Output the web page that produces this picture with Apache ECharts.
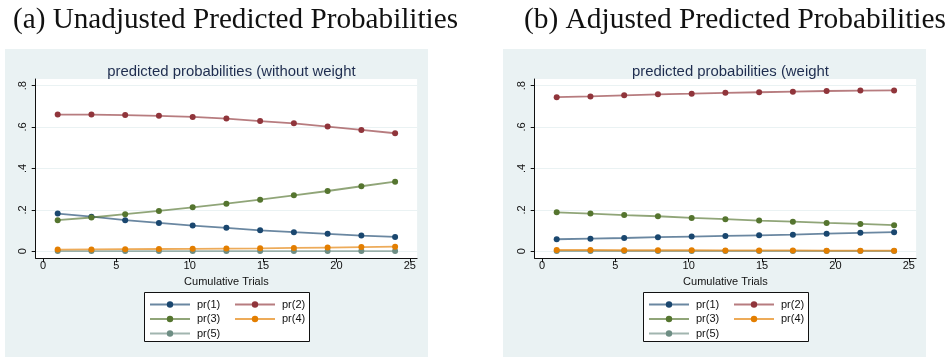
<!DOCTYPE html>
<html>
<head>
<meta charset="utf-8">
<script src="https://cdn.jsdelivr.net/npm/echarts@6/dist/echarts.min.js"></script>
<style>
html,body{margin:0;padding:0;background:#fff;}
#chart{width:947px;height:358px;}
</style>
</head>
<body>
<div id="chart"></div>
<script>
// ---- data ----
const panelHeaders = ['(a) Unadjusted Predicted Probabilities', '(b) Adjusted Predicted Probabilities'];
const panelTitles = ['predicted probabilities (without weight', 'predicted probabilities (weight'];
const seriesNames = ['pr(1)', 'pr(2)', 'pr(3)', 'pr(4)', 'pr(5)'];
const xValues = [1, 3.3, 5.6, 7.9, 10.2, 12.5, 14.8, 17.1, 19.4, 21.7, 24];
const xTicks = [0, 5, 10, 15, 20, 25];
const yTicks = [0, 0.2, 0.4, 0.6, 0.8];
const xAxisName = 'Cumulative Trials';

const unadjPr1 = [0.182, 0.167, 0.150, 0.137, 0.124, 0.113, 0.101, 0.092, 0.084, 0.076, 0.069];
const unadjPr2 = [0.660, 0.660, 0.658, 0.654, 0.649, 0.641, 0.629, 0.618, 0.602, 0.586, 0.570];
const unadjPr3 = [0.150, 0.163, 0.179, 0.195, 0.212, 0.230, 0.249, 0.270, 0.291, 0.314, 0.336];
const unadjPr4 = [0.008, 0.009, 0.010, 0.011, 0.012, 0.013, 0.014, 0.016, 0.018, 0.020, 0.022];
const unadjPr5 = [0.001, 0.001, 0.001, 0.001, 0.001, 0.001, 0.001, 0.001, 0.001, 0.001, 0.001];

const adjPr1 = [0.058, 0.061, 0.064, 0.068, 0.071, 0.074, 0.077, 0.080, 0.085, 0.089, 0.092];
const adjPr2 = [0.744, 0.748, 0.753, 0.758, 0.761, 0.765, 0.768, 0.771, 0.774, 0.776, 0.777];
const adjPr3 = [0.188, 0.182, 0.175, 0.169, 0.161, 0.155, 0.148, 0.143, 0.137, 0.132, 0.126];
const adjPr4 = [0.006, 0.006, 0.005, 0.005, 0.005, 0.004, 0.004, 0.004, 0.003, 0.003, 0.003];
const adjPr5 = [0.001, 0.001, 0.001, 0.001, 0.001, 0.001, 0.001, 0.001, 0.001, 0.001, 0.001];

// ---- styling ----
const colors = ['#1a476f', '#90353b', '#55752f', '#e37e00', '#6e8e84'];
const bgColor = '#eaf2f3';
const sansFont = 'Liberation Sans, Arial, sans-serif';
const serifFont = 'Liberation Serif, Times New Roman, serif';

const panels = [
  {values: [unadjPr1, unadjPr2, unadjPr3, unadjPr4, unadjPr5], bgLeft: 5, gridLeft: 35.7, legendLeft: 149, boxLeft: 144},
  {values: [adjPr1, adjPr2, adjPr3, adjPr4, adjPr5], bgLeft: 503, gridLeft: 534.7, legendLeft: 648, boxLeft: 643}
];
const headerLefts = [8, 519];
const headerSizes = [29.2, 29.4];

const gridWidth = 381.4;
const gridTop = 79;
const gridHeight = 179.3;

const yLabelFmt = v => {
  if (Math.abs(v) < 1e-9) return '0';
  return String(Math.round(v * 10) / 10).replace(/^0\./, '.');
};

const option = {
  animation: false,
  backgroundColor: '#ffffff',
  graphic: [],
  title: [],
  grid: [],
  xAxis: [],
  yAxis: [],
  legend: [],
  series: []
};

panels.forEach((p, i) => {
  option.graphic.push({
    type: 'rect', z: -10, silent: true,
    shape: {x: p.bgLeft, y: 49, width: 423, height: 308},
    style: {fill: bgColor}
  });
  option.graphic.push({
    type: 'rect', z: 0, silent: true,
    shape: {x: p.boxLeft + 0.5, y: 292.5, width: 165, height: 49},
    style: {fill: '#ffffff', stroke: '#111111', lineWidth: 1}
  });
  option.title.push({
    text: panelHeaders[i],
    left: headerLefts[i], top: 1,
    textStyle: {fontFamily: serifFont, fontWeight: 'normal', fontSize: headerSizes[i], color: '#111111'}
  });
  option.title.push({
    text: panelTitles[i],
    left: p.gridLeft + gridWidth / 2, top: 59, textAlign: 'center',
    textStyle: {fontFamily: sansFont, fontWeight: 'normal', fontSize: 14.9, color: '#1e2d4f'}
  });
  option.grid.push({
    left: p.gridLeft, top: gridTop, width: gridWidth, height: gridHeight,
    show: true, backgroundColor: '#ffffff', borderWidth: 0, containLabel: false
  });
  option.xAxis.push({
    type: 'value', gridIndex: i, min: -0.5, max: 25.5,
    name: xAxisName, nameLocation: 'middle', nameGap: 17,
    nameTextStyle: {fontFamily: sansFont, fontSize: 11, color: '#111111'},
    axisLine: {show: true, onZero: false, lineStyle: {color: '#111111', width: 1}},
    axisTick: {show: true, length: 4, customValues: xTicks, lineStyle: {color: '#111111'}},
    axisLabel: {customValues: xTicks, fontFamily: sansFont, fontSize: 11, color: '#111111', margin: 2},
    splitLine: {show: false}
  });
  option.yAxis.push({
    type: 'value', gridIndex: i, min: -0.034, max: 0.832,
    axisLine: {show: true, onZero: false, lineStyle: {color: '#111111', width: 1}},
    axisTick: {show: true, length: 4, customValues: yTicks, lineStyle: {color: '#111111'}},
    axisLabel: {customValues: yTicks, formatter: yLabelFmt, rotate: 90, fontFamily: sansFont, fontSize: 11, color: '#111111', margin: 7},
    splitLine: {show: true, customValues: yTicks, lineStyle: {color: bgColor, width: 1}}
  });
  // two legend columns
  const col1 = [seriesNames[0], seriesNames[2], seriesNames[4]];
  const col2 = [seriesNames[1], seriesNames[3]];
  [col1, col2].forEach((names, c) => {
    option.legend.push({
      data: names, orient: 'vertical',
      left: p.legendLeft + c * 85, top: 297.5,
      itemWidth: 40, itemHeight: 8, itemGap: 0.5, padding: 0,
      selectedMode: false, z: 5,
      textStyle: {fontFamily: sansFont, fontSize: 11, lineHeight: 14, color: '#111111', padding: [0, 0, 0, 2]}
    });
  });
  p.values.forEach((vals, k) => {
    option.series.push({
      type: 'line', name: seriesNames[k],
      xAxisIndex: i, yAxisIndex: i,
      data: xValues.map((x, j) => [x, vals[j]]),
      symbol: 'circle', symbolSize: 6, showSymbol: true,
      itemStyle: {color: colors[k]},
      lineStyle: {color: colors[k], width: 1.8, opacity: 0.65},
      z: 3 + (k === 4 ? -1 : 0)
    });
  });
});

const chart = echarts.init(document.getElementById('chart'), null, {renderer: 'canvas'});
chart.setOption(option);
</script>
</body>
</html>
